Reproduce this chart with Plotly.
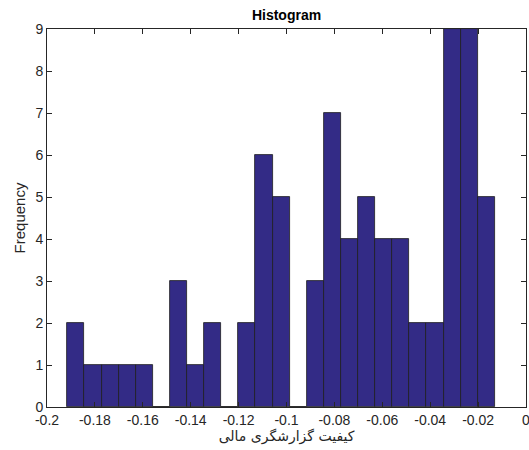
import plotly.graph_objects as go

# Histogram data
bin_start = -0.1915
bin_width = 0.00714
counts = [2, 1, 1, 1, 1, 0, 3, 1, 2, 0, 2, 6, 5, 0, 3, 7, 4, 5, 4, 4, 2, 2, 9, 9, 5]
x_ticks = [-0.2, -0.18, -0.16, -0.14, -0.12, -0.1, -0.08, -0.06, -0.04, -0.02, 0]
x_tick_labels = ["-0.2", "-0.18", "-0.16", "-0.14", "-0.12", "-0.1", "-0.08", "-0.06", "-0.04", "-0.02", "0"]
y_ticks = list(range(0, 10))

centers = [bin_start + bin_width * (i + 0.5) for i in range(len(counts))]

fig = go.Figure(go.Bar(
    x=centers, y=counts, width=[bin_width] * len(counts),
    marker=dict(color="#332b86", line=dict(color="#1e1e1e", width=0.8)),
))

font_main = "Liberation Sans, Arial, sans-serif"
# last tick label (at the right edge) is drawn as an annotation so it is not dropped
fig.add_annotation(x=x_ticks[-1], y=0, xref="x", yref="y", text=x_tick_labels[-1],
                   showarrow=False, xanchor="center", yanchor="top", yshift=-3,
                   font=dict(family=font_main, size=14, color="#262626"))

fig.update_layout(
    width=529, height=450,
    margin=dict(l=47, r=3, t=29, b=43, autoexpand=False),
    plot_bgcolor="white", paper_bgcolor="white",
    showlegend=False,
    bargap=0,
    title=dict(text="<b>Histogram</b>", x=0.5, xanchor="center", xref="paper",
               y=1, yref="container", yanchor="top", pad=dict(t=10),
               font=dict(family=font_main, size=14, color="#000000")),
    font=dict(family=font_main, size=14, color="#262626"),
)
fig.update_xaxes(
    range=[-0.2, 0], tickvals=x_ticks, ticktext=x_tick_labels[:-1] + [""],
    ticks="inside", ticklen=5, tickcolor="#262626",
    showline=True, linecolor="#262626", linewidth=1, mirror="ticks",
    showgrid=False, zeroline=False, automargin=False,
    title=dict(text="کیفیت گزارشگری مالی", standoff=4,
               font=dict(family="DejaVu Sans, Noto Sans, sans-serif", size=14, color="#262626")),
    tickfont=dict(size=14, color="#262626"),
)
fig.update_yaxes(
    range=[0, 9], tickvals=y_ticks,
    ticks="inside", ticklen=5, tickcolor="#262626",
    showline=True, linecolor="#262626", linewidth=1, mirror="ticks",
    showgrid=False, zeroline=False, automargin=False,
    title=dict(text="Frequency", standoff=6, font=dict(size=15, color="#262626")),
    tickfont=dict(size=14, color="#262626"),
)

fig.write_html("out.html", config={"displayModeBar": False},
               post_script="document.body.style.margin='0';document.body.style.overflow='hidden';")
